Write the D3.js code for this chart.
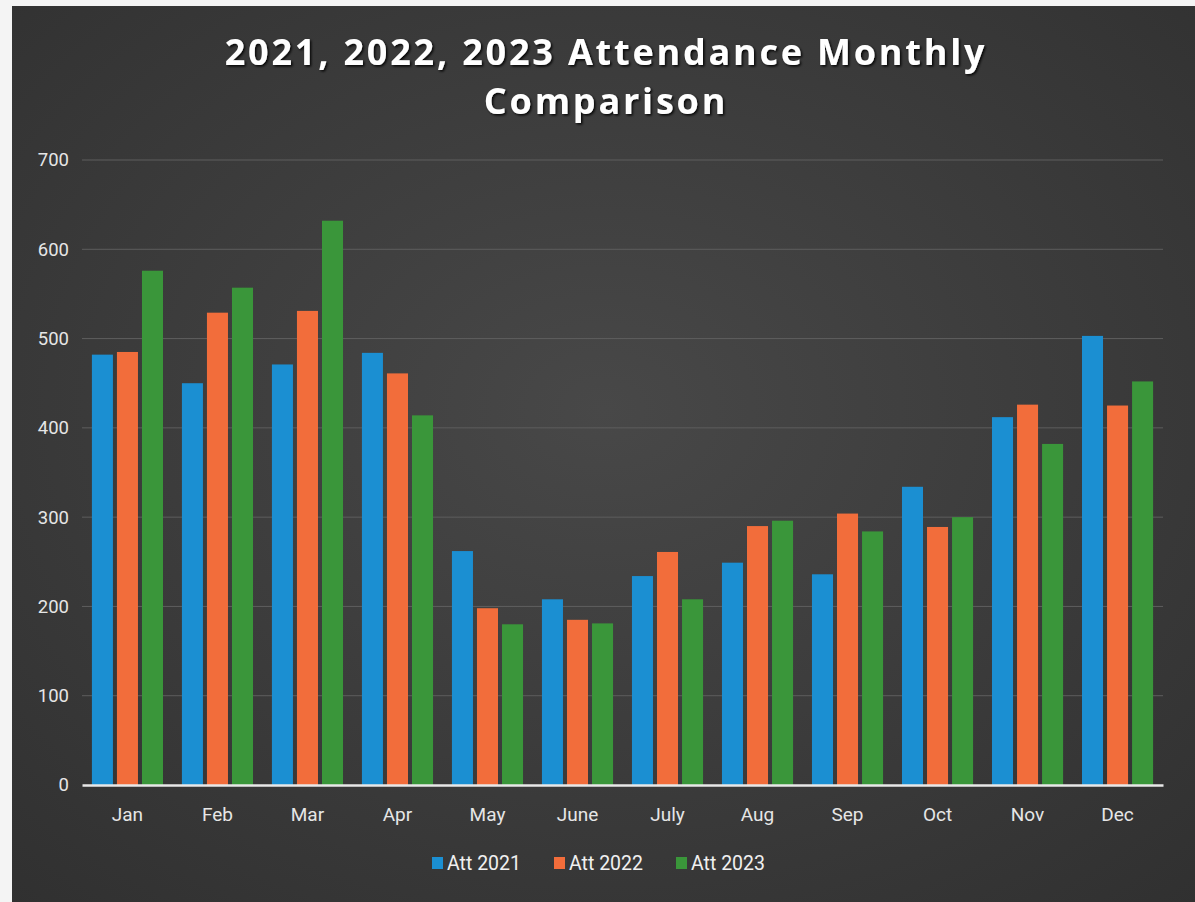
<!DOCTYPE html>
<html><head><meta charset="utf-8">
<script src="https://cdn.jsdelivr.net/npm/d3@7"></script>
<style>html,body{margin:0;padding:0;background:#fff;}svg{display:block;}</style>
</head><body>
<script>
const months = ["Jan","Feb","Mar","Apr","May","June","July","Aug","Sep","Oct","Nov","Dec"];
const seriesNames = ["Att 2021","Att 2022","Att 2023"];
const att2021 = [482,450,471,484,262,208,234,249,236,334,412,503];
const att2022 = [485,529,531,461,198,185,261,290,304,289,426,425];
const att2023 = [576,557,632,414,180,181,208,296,284,300,382,452];
const yTicks = [0,100,200,300,400,500,600,700];
const colors = ["#1b8fd2","#f26d3b","#3a963a"];

const W = 1195, H = 902;
const svg = d3.select("body").append("svg").attr("width", W).attr("height", H);
const defs = svg.append("defs");
const rg = defs.append("radialGradient").attr("id","bg").attr("cx","50%").attr("cy","45%").attr("r","75%");
rg.append("stop").attr("offset","0%").attr("stop-color","#484848");
rg.append("stop").attr("offset","100%").attr("stop-color","#303030");
const sh = defs.append("filter").attr("id","sh").attr("x","-5%").attr("y","-20%").attr("width","110%").attr("height","140%");
sh.append("feDropShadow").attr("dx",1.5).attr("dy",1.5).attr("stdDeviation",1).attr("flood-color","#000").attr("flood-opacity",0.9);

svg.append("rect").attr("x",0).attr("y",0).attr("width",W).attr("height",H).attr("fill","#f4f4f4");
svg.append("rect").attr("x",12).attr("y",6).attr("width",W-12).attr("height",H-6).attr("fill","url(#bg)");

const margin = {left: 82, right: 1163, top: 160, bottom: 785};
const x = d3.scaleBand().domain(months).range([margin.left, margin.right]).paddingInner(0.21).paddingOuter(0.11);
const x1 = d3.scaleBand().domain(seriesNames).range([0, x.bandwidth()]).paddingInner(0.16);
const y = d3.scaleLinear().domain([0,700]).range([margin.bottom, margin.top]);

// gridlines
svg.append("g").selectAll("line").data(yTicks.filter(d=>d>0)).join("line")
  .attr("x1", margin.left).attr("x2", margin.right)
  .attr("y1", d=>y(d)).attr("y2", d=>y(d))
  .attr("stroke","#5e5e5e").attr("stroke-width",1);

// y axis labels
const yAxis = d3.axisLeft(y).tickValues(yTicks).tickSize(0).tickPadding(0);
const ya = svg.append("g").attr("transform",`translate(${margin.left-13},0)`).call(yAxis);
ya.select(".domain").remove();
ya.selectAll("text").attr("fill","#e6e6e6").attr("font-family","Roboto, 'Noto Sans', sans-serif").attr("font-size",18.5);

// bars
const data = [att2021, att2022, att2023];
const g = svg.append("g");
months.forEach((m,i)=>{
  seriesNames.forEach((s,j)=>{
    g.append("rect")
      .attr("x", x(m)+x1(s)).attr("width", x1.bandwidth())
      .attr("y", y(data[j][i])).attr("height", y(0)-y(data[j][i]))
      .attr("fill", colors[j]);
  });
});

// x axis
const xAxis = d3.axisBottom(x).tickSize(0).tickPadding(23);
const xa = svg.append("g").attr("transform",`translate(0,${margin.bottom})`).call(xAxis);
xa.select(".domain").attr("stroke","#e8e8e8").attr("stroke-width",2.5);
xa.selectAll("text").attr("fill","#e6e6e6").attr("font-family","Roboto, 'Noto Sans', sans-serif").attr("font-size",19);

// title
const title = svg.append("g").attr("filter","url(#sh)");
["2021, 2022, 2023 Attendance Monthly","Comparison"].forEach((t,i)=>{
  title.append("text").attr("x",606).attr("y",65+i*49).attr("text-anchor","middle")
    .attr("fill","#ffffff").attr("font-family","'Open Sans', sans-serif").attr("font-weight",700)
    .attr("font-size",36).attr("letter-spacing",2.8).text(t);
});

// legend
const legendX = [432, 554, 676];
const lg = svg.append("g");
seriesNames.forEach((s,j)=>{
  lg.append("rect").attr("x",legendX[j]).attr("y",857).attr("width",11).attr("height",12).attr("fill",colors[j]);
  lg.append("text").attr("x",legendX[j]+15).attr("y",870).attr("fill","#f0f0f0")
    .attr("font-family","Roboto, 'Noto Sans', sans-serif").attr("font-size",19.5).text(s);
});
</script>
</body></html>
